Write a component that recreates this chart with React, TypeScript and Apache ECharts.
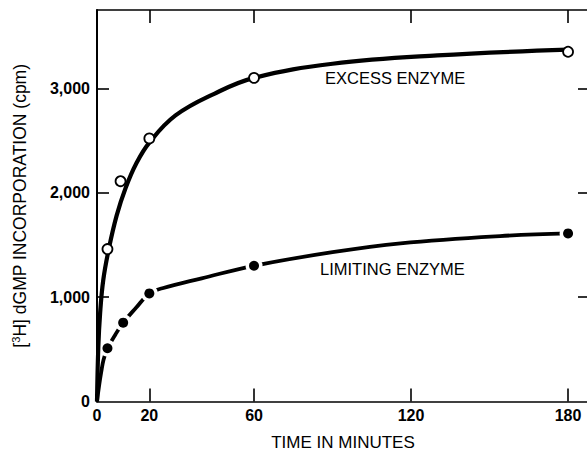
import React, { useEffect, useRef } from "react";
import * as echarts from "echarts";

// Measured points (minutes, cpm)
const excessTime = [4, 9, 20, 60, 180];
const excessCpm = [1460, 2110, 2520, 3100, 3350];
const limitingTime = [4, 10, 20, 60, 180];
const limitingCpm = [510, 755, 1035, 1300, 1610];

// Drawn (fitted) curves
const excessCurveTime = [0, 0.5, 1.2, 2.4, 4.5, 7.5, 11, 15, 20, 30, 45, 60, 90, 130, 180];
const excessCurveCpm = [0, 520, 850, 1165, 1460, 1780, 2050, 2280, 2480, 2740, 2950, 3100, 3235, 3315, 3370];
const limitingCurveTime = [0, 0.8, 1.6, 2.5, 4, 7, 10, 15, 20, 25, 40, 60, 90, 116, 154, 180];
const limitingCurveCpm = [0, 150, 280, 400, 510, 640, 755, 900, 1035, 1085, 1180, 1300, 1430, 1515, 1585, 1610];

// Axis ticks
const xLabelValues = [0, 20, 60, 120, 180];
const xTickValues = [20, 60, 120, 180];
const yLabelValues = [0, 1000, 2000, 3000];
const yTickValues = [1000, 2000, 3000];

const FONT = "'Liberation Sans', Arial, Helvetica, sans-serif";

const pairs = (xs: number[], ys: number[]) => xs.map((x, i) => [x, ys[i]]);

export default function App() {
  const ref = useRef<HTMLDivElement>(null);
  useEffect(() => {
    document.body.style.margin = "0";
    if (!ref.current) return;
    const chart = echarts.init(ref.current, undefined, { renderer: "svg" });
    const axisLine = (w: number) => ({ show: true, onZero: false, lineStyle: { color: "#000", width: w } });
    const tick = (len: number, values: number[]) => ({
      show: true,
      inside: true,
      length: len,
      customValues: values,
      lineStyle: { color: "#000", width: 1.6 },
    });
    chart.setOption({
      animation: false,
      backgroundColor: "#fff",
      grid: { left: 97, top: 10, right: -2, bottom: 48.5, outerBoundsMode: "none", containLabel: false },
      xAxis: [
        {
          type: "value",
          position: "bottom",
          min: 0,
          max: 188,
          axisLine: axisLine(1.6),
          axisTick: tick(13, xTickValues),
          axisLabel: { customValues: xLabelValues, margin: 6, color: "#000", fontSize: 16, fontWeight: "bold", fontFamily: FONT },
          splitLine: { show: false },
          name: "TIME IN MINUTES",
          nameLocation: "middle",
          nameGap: 32,
          nameTextStyle: { color: "#000", fontSize: 17, fontFamily: FONT },
        },
        {
          type: "value",
          position: "top",
          min: 0,
          max: 188,
          axisLine: axisLine(1.6),
          axisTick: tick(13, xTickValues),
          axisLabel: { show: false },
          splitLine: { show: false },
        },
      ],
      yAxis: [
        {
          type: "value",
          position: "left",
          min: 0,
          max: 3750,
          axisLine: axisLine(2),
          axisTick: tick(12, yTickValues),
          axisLabel: {
            customValues: yLabelValues,
            margin: 7,
            color: "#000",
            fontSize: 16,
            fontWeight: "bold",
            fontFamily: FONT,
            formatter: (v: number) => v.toLocaleString("en-US"),
          },
          splitLine: { show: false },
          name: "[{sup|3}H] dGMP INCORPORATION (cpm)",
          nameLocation: "middle",
          nameGap: 67,
          nameTextStyle: {
            color: "#000",
            fontSize: 17.5,
            fontFamily: FONT,
            lineHeight: 20,
            rich: { sup: { fontSize: 11, fontFamily: FONT, color: "#000", verticalAlign: "top", lineHeight: 12 } },
          },
        },
        {
          type: "value",
          position: "right",
          min: 0,
          max: 3750,
          axisLine: axisLine(1.6),
          axisTick: tick(11, yTickValues),
          axisLabel: { show: false },
          splitLine: { show: false },
        },
      ],
      graphic: [
        {
          type: "text",
          x: 325,
          y: 78,
          style: { text: "EXCESS ENZYME", fontSize: 16.5, fontFamily: FONT, fill: "#000", align: "left", verticalAlign: "middle" },
          z: 10,
        },
        {
          type: "text",
          x: 320,
          y: 269,
          style: { text: "LIMITING ENZYME", fontSize: 16.5, fontFamily: FONT, fill: "#000", align: "left", verticalAlign: "middle" },
          z: 10,
        },
      ],
      series: [
        {
          name: "Limiting curve",
          type: "line",
          data: pairs(limitingCurveTime, limitingCurveCpm),
          smooth: 0.4,
          showSymbol: false,
          lineStyle: { color: "#000", width: 3.8 },
          z: 1,
        },
        {
          name: "Limiting halo",
          type: "scatter",
          data: pairs(limitingTime, limitingCpm),
          symbolSize: 17,
          itemStyle: { color: "#fff", opacity: 1 },
          z: 2,
        },
        {
          name: "Excess curve",
          type: "line",
          data: pairs(excessCurveTime, excessCurveCpm),
          smooth: 0.4,
          showSymbol: false,
          lineStyle: { color: "#000", width: 4.2 },
          z: 3,
        },
        {
          name: "LIMITING ENZYME",
          type: "scatter",
          data: pairs(limitingTime, limitingCpm),
          symbolSize: 10,
          itemStyle: { color: "#000", opacity: 1 },
          z: 4,
        },
        {
          name: "EXCESS ENZYME",
          type: "scatter",
          data: pairs(excessTime, excessCpm),
          symbolSize: 10,
          itemStyle: { color: "#fff", borderColor: "#000", borderWidth: 1.8, opacity: 1 },
          z: 5,
        },
      ],
    });
    return () => chart.dispose();
  }, []);
  return <div ref={ref} style={{ width: 587, height: 450 }} />;
}
